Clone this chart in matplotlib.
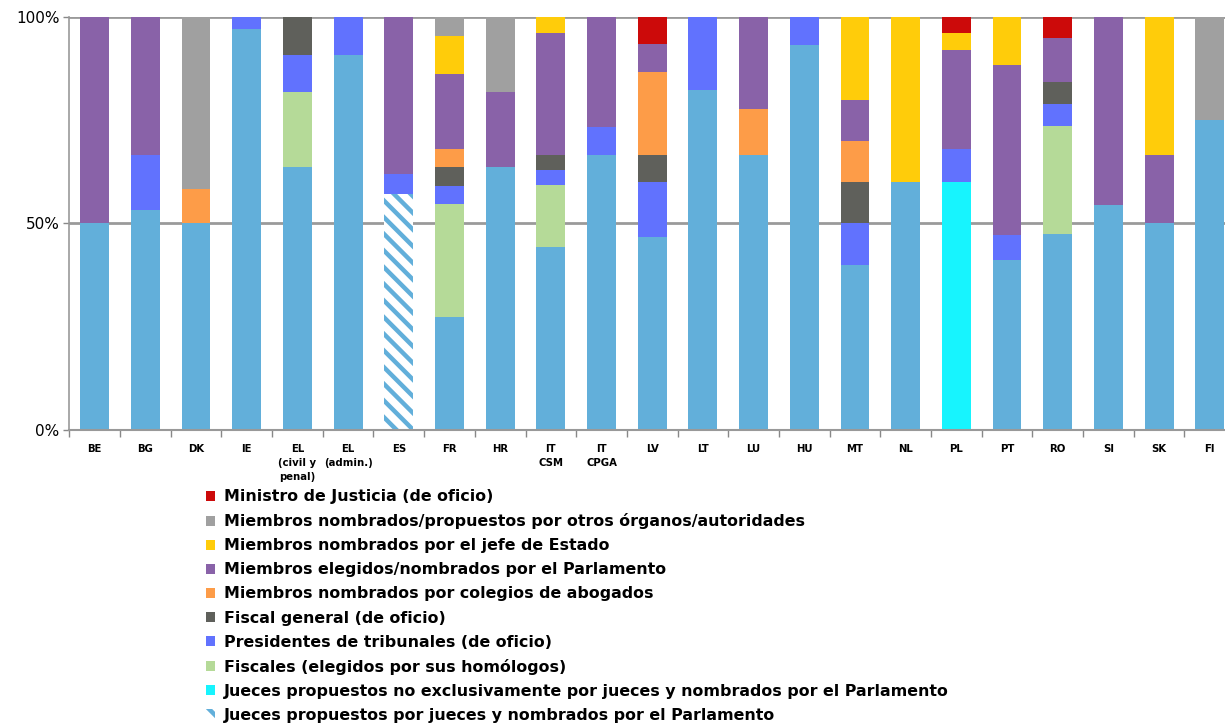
import matplotlib
matplotlib.use("Agg")
import matplotlib.pyplot as plt
from matplotlib.patches import Patch
import numpy as np

categories = ["BE", "BG", "DK", "IE", "EL\n(civil y\npenal)", "EL\n(admin.)", "ES", "FR", "HR",
              "IT\nCSM", "IT\nCPGA", "LV", "LT", "LU", "HU", "MT", "NL", "PL", "PT", "RO", "SI", "SK", "FI"]

# order: BE BG DK IE EL1 EL2 ES FR HR ITCSM ITCPGA LV LT LU HU MT NL PL PT RO SI SK FI
jueces_homologos = [50, 53.3, 50, 97, 63.6, 90.9, 0, 27.3, 63.6, 44.4, 66.7, 46.7, 82.4, 66.7, 93.3, 40, 60, 0, 41.2, 47.4, 54.5, 50, 75]
jueces_prop_jueces = [0, 0, 0, 0, 0, 0, 57.1, 0, 0, 0, 0, 0, 0, 0, 0, 0, 0, 0, 0, 0, 0, 0, 0]
jueces_no_excl = [0, 0, 0, 0, 0, 0, 0, 0, 0, 0, 0, 0, 0, 0, 0, 0, 0, 60, 0, 0, 0, 0, 0]
fiscales = [0, 0, 0, 0, 18.2, 0, 0, 27.3, 0, 14.8, 0, 0, 0, 0, 0, 0, 0, 0, 0, 26.3, 0, 0, 0]
presidentes = [0, 13.3, 0, 3, 9.1, 9.1, 4.8, 4.5, 0, 3.7, 6.7, 13.3, 17.6, 0, 6.7, 10, 0, 8, 5.9, 5.3, 0, 0, 0]
fiscal_general = [0, 0, 0, 0, 9.1, 0, 0, 4.5, 0, 3.7, 0, 6.7, 0, 0, 0, 10, 0, 0, 0, 5.3, 0, 0, 0]
abogados = [0, 0, 8.3, 0, 0, 0, 0, 4.5, 0, 0, 0, 20, 0, 11.1, 0, 10, 0, 0, 0, 0, 0, 0, 0]
parlamento = [50, 33.4, 0, 0, 0, 0, 38.1, 18.2, 18.2, 29.6, 26.6, 6.7, 0, 22.2, 0, 10, 0, 24, 41.2, 10.5, 45.5, 16.7, 0]
jefe_estado = [0, 0, 0, 0, 0, 0, 0, 9.1, 0, 3.7, 0, 0, 0, 0, 0, 20, 40, 4, 11.7, 0, 0, 33.3, 0]
otros = [0, 0, 41.7, 0, 0, 0, 0, 4.6, 18.2, 0, 0, 0, 0, 0, 0, 0, 0, 0, 0, 0, 0, 0, 25]
ministro = [0, 0, 0, 0, 0, 0, 0, 0, 0, 0, 0, 6.6, 0, 0, 0, 0, 0, 4, 0, 5.2, 0, 0, 0]

legend_labels = [
    "Ministro de Justicia (de oficio)",
    "Miembros nombrados/propuestos por otros órganos/autoridades",
    "Miembros nombrados por el jefe de Estado",
    "Miembros elegidos/nombrados por el Parlamento",
    "Miembros nombrados por colegios de abogados",
    "Fiscal general (de oficio)",
    "Presidentes de tribunales (de oficio)",
    "Fiscales (elegidos por sus homólogos)",
    "Jueces propuestos no exclusivamente por jueces y nombrados por el Parlamento",
    "Jueces propuestos por jueces y nombrados por el Parlamento",
]

C_BASE = "#62AFDA"
C_CYAN = "#17F4FE"
C_GREEN = "#B5DA98"
C_BLUE = "#6172FE"
C_DARK = "#5F605B"
C_ORANGE = "#FD9C48"
C_PURPLE = "#8962A8"
C_YELLOW = "#FFCC0A"
C_GREY = "#A0A0A0"
C_RED = "#CC0A0A"

plt.rcParams['hatch.linewidth'] = 3.2

fig = plt.figure(figsize=(12.25, 7.25), dpi=100)
ax = fig.add_axes([0.0566, 0.4069, 0.9434, 0.5697])

x = np.arange(len(categories))
w = 0.57

for yv in (50, 100):
    ax.axhline(yv, color="#9a9a9a", lw=2.0, zorder=0)

bottom = np.zeros(len(categories))
def stack(vals, color, **kw):
    global bottom
    v = np.array(vals, dtype=float)
    ax.bar(x, v, w, bottom=bottom, color=color, linewidth=0, zorder=2, **kw)
    bottom = bottom + v

stack(jueces_homologos, C_BASE)
v = np.array(jueces_prop_jueces, dtype=float)
ax.bar(x, v, w, bottom=bottom, facecolor="white", edgecolor=C_BASE, hatch="\\\\", linewidth=0, zorder=2)
bottom = bottom + v
stack(jueces_no_excl, C_CYAN)
stack(fiscales, C_GREEN)
stack(presidentes, C_BLUE)
stack(fiscal_general, C_DARK)
stack(abogados, C_ORANGE)
stack(parlamento, C_PURPLE)
stack(jefe_estado, C_YELLOW)
stack(otros, C_GREY)
stack(ministro, C_RED)

ax.set_xlim(-0.5, 22.3)
ax.set_ylim(0, 100)
ax.set_yticks([0, 50, 100])
ax.set_yticklabels(["0%", "50%", "100%"], fontsize=11)
ax.set_xticks(x)
ax.set_xticklabels(categories, fontsize=7.3, fontweight="bold", linespacing=1.5, va="top",
                   family=["Liberation Sans Narrow", "DejaVu Sans"])
ax.set_xticks(np.arange(-0.5, 22.5, 1.0), minor=True)
ax.tick_params(axis="x", which="major", length=0, pad=10)
ax.tick_params(axis="x", which="minor", length=5, color="#888888", width=1)
ax.tick_params(axis="y", length=4, color="#888888", width=1, pad=3)

for s in ("top", "right"):
    ax.spines[s].set_visible(False)
ax.spines["left"].set_color("#999999")
ax.spines["bottom"].set_color("#999999")
ax.spines["left"].set_linewidth(1.2)
ax.spines["bottom"].set_linewidth(1.5)

handles = [
    Patch(facecolor=C_RED), Patch(facecolor=C_GREY), Patch(facecolor=C_YELLOW),
    Patch(facecolor=C_PURPLE), Patch(facecolor=C_ORANGE), Patch(facecolor=C_DARK),
    Patch(facecolor=C_BLUE), Patch(facecolor=C_GREEN), Patch(facecolor=C_CYAN),
    Patch(facecolor="white", edgecolor=C_BASE, hatch="\\\\", linewidth=0),
]
fig.legend(handles, legend_labels, loc="upper left", bbox_to_anchor=(0.168, 0.325),
           frameon=False, handlelength=0.6, handleheight=0.6,
           handletextpad=0.55, labelspacing=0.57, borderaxespad=0, borderpad=0,
           prop={"size": 11.4, "weight": "semibold"})

fig.savefig("out.png", dpi=100)
